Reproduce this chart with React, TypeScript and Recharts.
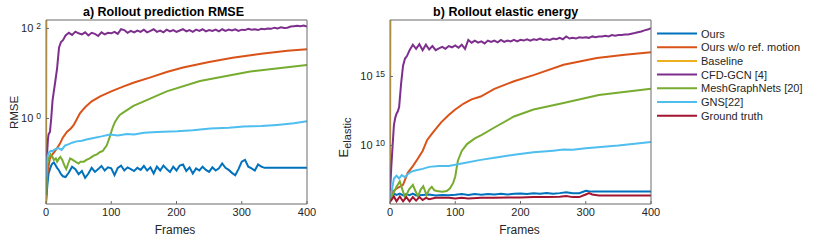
import { LineChart, Line, XAxis, YAxis } from 'recharts';

const FONT = '"Liberation Sans", Arial, Helvetica, sans-serif';
const AXIS = '#6b6b6b';
const TEXT = '#262626';

const seriesNames = ['Ours', 'Ours w/o ref. motion', 'Baseline', 'CFD-GCN [4]', 'MeshGraphNets [20]', 'GNS[22]', 'Ground truth'];
const seriesColors = ['#0072BD', '#D95319', '#EDB120', '#7E2F8E', '#77AC30', '#4DBEEE', '#A2142F'];

const frameTicks = [0, 100, 200, 300, 400];

// frames used by the noisy curves
const noisyFrames = [0, 1, 2, 3, 4, 6, 8, 10, 12, 14, 17, 20, 23, 26, 30,
  35, 40, 45, 50, 55, 60, 65, 70, 75, 80, 85, 90, 95, 100, 105, 110, 115, 120, 125, 130,
  135, 140, 145, 150, 155, 160, 165, 170, 175, 180, 185, 190, 195, 200, 205, 210, 215, 220, 225, 230,
  235, 240, 245, 250, 255, 260, 265, 270, 275, 280, 285, 290, 295, 300, 305, 310, 315, 320, 325, 330,
  335, 340, 345, 350, 355, 360, 365, 370, 375, 380, 385, 390, 395, 400];

// ---- a) RMSE ----
const rmseDomain = [0.0126, 154];
const rmseTicks = [1, 100];
const rmseMinor = [0.02, 0.03, 0.04, 0.05, 0.06, 0.07, 0.08, 0.09, 0.1, 0.2, 0.3, 0.4, 0.5, 0.6, 0.7, 0.8, 0.9, 1,
  2, 3, 4, 5, 6, 7, 8, 9, 10, 20, 30, 40, 50, 60, 70, 80, 90, 100];

const oursRmse = [0.013, 0.02, 0.032, 0.045, 0.06, 0.075, 0.09, 0.1, 0.105, 0.095, 0.08, 0.07, 0.058, 0.052, 0.05,
  0.063, 0.085, 0.075, 0.058, 0.068, 0.048, 0.06, 0.08, 0.065, 0.075,
  0.088, 0.07, 0.082, 0.078, 0.055, 0.08, 0.09, 0.07, 0.082, 0.075,
  0.068, 0.08, 0.072, 0.088, 0.07, 0.082, 0.06, 0.085, 0.07, 0.09,
  0.075, 0.065, 0.085, 0.07, 0.09, 0.095, 0.068, 0.082, 0.06, 0.078,
  0.07, 0.085, 0.072, 0.065, 0.082, 0.07, 0.078, 0.1, 0.08, 0.072,
  0.062, 0.055, 0.075, 0.11, 0.12, 0.085, 0.078, 0.07, 0.095, 0.085,
  0.08, 0.08, 0.08, 0.08, 0.08, 0.08, 0.08, 0.08, 0.08, 0.08, 0.08, 0.08, 0.08, 0.08];

const cfdRmse = [0.038, 0.1, 0.2, 0.35, 0.45, 0.5, 1.0, 2.5, 4, 6.3, 13, 38, 50, 55, 70,
  80, 72, 85, 78, 74, 82, 70, 80, 76, 68,
  82, 74, 80, 78, 84, 76, 96, 92, 80, 88,
  82, 90, 84, 94, 82, 88, 96, 84, 90, 82,
  94, 86, 92, 84, 90, 96, 86, 92, 84, 94,
  88, 96, 86, 92, 88, 94, 86, 96, 88, 94,
  90, 96, 88, 94, 92, 98, 94, 96, 92, 98,
  96, 100, 98, 104, 100, 106, 102, 104, 110, 112, 114, 112, 116, 110];

const noRefRmseFrames = [0, 2, 6, 10, 15, 21, 26, 32, 38, 42, 47, 52, 58, 62, 70, 83, 100, 118, 135, 159, 185, 210, 250, 286, 330, 370, 400];
const noRefRmse = [0.015, 0.06, 0.13, 0.16, 0.2, 0.27, 0.38, 0.5, 0.6, 0.7, 0.95, 1.3, 1.65, 1.9, 2.4, 3.1, 4.0, 5.1, 6.3, 8.1, 10.8, 13.5, 18, 22.4, 27.5, 32, 34.7];

const mgnRmseFrames = [0, 2, 4, 7, 10, 12, 15, 17, 20, 22, 25, 27, 29, 31, 34, 37, 41, 45, 50, 53, 58, 62, 67, 73, 78, 83, 87, 90, 93, 95, 98, 100, 103, 106, 110, 113, 120, 134, 150, 185, 236, 313, 400];
const mgnRmse = [0.02, 0.1, 0.13, 0.16, 0.14, 0.12, 0.13, 0.11, 0.13, 0.14, 0.12, 0.1, 0.085, 0.075, 0.1, 0.13, 0.12, 0.11, 0.1, 0.11, 0.11, 0.12, 0.13, 0.15, 0.16, 0.18, 0.19, 0.22, 0.25, 0.3, 0.4, 0.5, 0.68, 0.85, 1.05, 1.2, 1.4, 1.9, 2.4, 4.0, 6.8, 11, 15.5];

const gnsRmseFrames = [0, 2, 4, 7, 10, 12, 15, 19, 24, 29, 35, 40, 47, 55, 62, 73, 85, 98, 110, 124, 135, 150, 170, 201, 225, 252, 280, 303, 330, 354, 380, 400];
const gnsRmse = [0.05, 0.14, 0.17, 0.19, 0.185, 0.2, 0.21, 0.22, 0.2, 0.25, 0.27, 0.29, 0.31, 0.32, 0.34, 0.37, 0.4, 0.44, 0.42, 0.45, 0.44, 0.48, 0.5, 0.52, 0.55, 0.6, 0.62, 0.66, 0.68, 0.72, 0.78, 0.87];

const baselineFrames = [0, 1];
const baselineRmse = [0.0126, 10000];

// ---- b) elastic energy ----
const energyDomain = [5.7e5, 1.24e19];
const energyTicks = [1e10, 1e15];
const energyMinor = [1e6, 1e7, 1e8, 1e9, 1e10, 1e11, 1e12, 1e13, 1e14, 1e15, 1e16, 1e17, 1e18, 1e19];

const oursEnergyFrames = [0, 3, 6, 10, 15, 20, 25, 30, 35, 40, 50, 60, 70, 80, 90, 100, 110, 120, 130, 140, 150, 160, 170, 180, 190, 200, 210, 220, 230, 240, 250, 260, 270, 280, 290, 300, 305, 310, 320, 340, 360, 380, 400];
const oursEnergy = [1e6, 2.2e6, 3.2e6, 2.6e6, 3.2e6, 2.4e6, 3e6, 2.5e6, 3.2e6, 2.4e6, 2.6e6, 2.8e6, 2.4e6, 2.6e6, 2.5e6, 2.7e6, 3e6, 2.6e6, 3e6, 2.7e6, 3e6, 2.75e6, 3.1e6, 2.8e6, 3.2e6, 3.3e6, 3e6, 3.4e6, 3.2e6, 3.5e6, 3.2e6, 3.5e6, 4e6, 3.5e6, 3.5e6, 5.2e6, 4.8e6, 4.5e6, 4.5e6, 4.5e6, 4.5e6, 4.5e6, 4.5e6];

const noRefEnergyFrames = [0, 5, 11, 20, 27, 35, 42, 50, 57, 65, 78, 90, 100, 113, 125, 139, 160, 190, 220, 266, 317, 360, 400];
const noRefEnergy = [2e6, 5e6, 7.9e6, 1.4e7, 1e8, 3.2e8, 1e9, 4e9, 2.5e10, 7.9e10, 4.5e11, 1.6e12, 4e12, 1.1e13, 2.2e13, 3.5e13, 1.26e14, 4.5e14, 1.26e15, 7e15, 2.2e16, 3.7e16, 5.6e16];

const baselineEnergy = [5.7e5, 1e25];

const cfdEnergy = [5e6, 3e7, 3e8, 1.6e9, 1e10, 3e11, 1e12, 2e12, 3e12, 6e12, 3e14, 6e15, 2e16, 3e16, 8e16,
  2e17, 1e17, 2.2e17, 8e16, 2e17, 9e16, 1.6e17, 8e16, 1.1e17, 1.4e17,
  1e17, 1.6e17, 1.3e17, 1.8e17, 1.2e17, 2e17, 1e17, 4.5e17, 2.8e17, 4e17,
  2.8e17, 3.5e17, 2.5e17, 4e17, 3.2e17, 4e17, 3e17, 4.5e17, 3.2e17, 4e17,
  3.5e17, 4.5e17, 3.5e17, 4.5e17, 4e17, 5e17, 4e17, 5e17, 4.5e17, 5.6e17,
  4.5e17, 5e17, 4.5e17, 5.6e17, 5e17, 6.3e17, 5e17, 8e17, 5.6e17, 6.3e17,
  5.6e17, 7e17, 6.3e17, 7e17, 6.3e17, 8e17, 7e17, 8e17, 8e17, 9e17,
  8e17, 1e18, 9e17, 1e18, 1e18, 1.1e18, 1.1e18, 1.26e18, 1.4e18, 1.6e18, 1.8e18, 2.2e18, 2.5e18, 3.2e18];

const mgnEnergyFrames = [0, 5, 10, 15, 19, 23, 29, 35, 39, 43, 47, 51, 56, 60, 64, 68, 72, 80, 87, 92, 97, 100, 104, 110, 118, 130, 140, 160, 190, 220, 266, 320, 400];
const mgnEnergy = [1e6, 3.2e6, 1e7, 2.5e7, 6.3e6, 1.6e6, 6.3e6, 1.4e7, 5e6, 2e6, 6.3e6, 1.1e7, 2.5e6, 6.3e6, 1e7, 5.6e6, 5e6, 4.5e6, 5e6, 7.9e6, 2e7, 5.6e7, 7.9e8, 4e9, 1.26e10, 3.2e10, 5.6e10, 2e11, 1.26e12, 4e12, 1.2e13, 4.5e13, 1.3e14];

const gnsEnergyFrames = [0, 3, 6, 10, 14, 18, 23, 28, 33, 40, 50, 60, 75, 90, 110, 139, 165, 190, 220, 250, 266, 280, 300, 350, 400];
const gnsEnergy = [1.6e6, 6.3e6, 4e7, 6.3e7, 4e7, 7e7, 5e7, 9e7, 1.26e8, 1.6e8, 2e8, 2.8e8, 3.2e8, 3.2e8, 5e8, 9e8, 1.4e9, 2.1e9, 3.2e9, 4.2e9, 5e9, 4.8e9, 6.3e9, 1e10, 1.8e10];

const gtEnergyFrames = [0, 3, 6, 10, 15, 20, 25, 30, 35, 40, 45, 50, 55, 60, 70, 80, 90, 100, 110, 120, 140, 160, 180, 200, 220, 240, 260, 270, 280, 290, 300, 305, 310, 320, 340, 370, 400];
const gtEnergy = [7.9e5, 1.26e6, 2e6, 8.9e5, 2e6, 8.9e5, 1.8e6, 8.9e5, 1.8e6, 1e6, 1.8e6, 1.1e6, 1.6e6, 1.26e6, 1.6e6, 1.6e6, 1.6e6, 1.4e6, 1.6e6, 1.4e6, 1.6e6, 1.6e6, 1.66e6, 1.66e6, 1.8e6, 1.8e6, 1.9e6, 2.2e6, 1.8e6, 1.8e6, 2.8e6, 3.5e6, 2.8e6, 2.4e6, 2.4e6, 2.4e6, 2.4e6];

const toPoints = (frames: number[], values: number[]) => frames.map((f, i) => ({ f, v: values[i] }));

type Series = { name: string; color: string; data: { f: number; v: number }[] };

const rmseSeries: Series[] = [
  toPoints(noisyFrames, oursRmse),
  toPoints(noRefRmseFrames, noRefRmse),
  toPoints(baselineFrames, baselineRmse),
  toPoints(noisyFrames, cfdRmse),
  toPoints(mgnRmseFrames, mgnRmse),
  toPoints(gnsRmseFrames, gnsRmse),
].map((data, i) => ({ name: seriesNames[i], color: seriesColors[i], data }));

const energySeries: Series[] = [
  toPoints(oursEnergyFrames, oursEnergy),
  toPoints(noRefEnergyFrames, noRefEnergy),
  toPoints(baselineFrames, baselineEnergy),
  toPoints(noisyFrames, cfdEnergy),
  toPoints(mgnEnergyFrames, mgnEnergy),
  toPoints(gnsEnergyFrames, gnsEnergy),
  toPoints(gtEnergyFrames, gtEnergy),
].map((data, i) => ({ name: seriesNames[i], color: seriesColors[i], data }));

function PowTick(props: any) {
  const { x, y, payload } = props;
  const exp = Math.round(Math.log10(payload.value));
  return (
    <text x={x} y={y + 4} textAnchor="end" fill={TEXT} fontSize={11} fontFamily={FONT}>
      <tspan>10</tspan>
      <tspan dx={3} dy={-3} fontSize={8.5}>{exp}</tspan>
    </text>
  );
}

type PanelProps = {
  series: Series[];
  domain: number[];
  majorTicks: number[];
  minorTicks: number[];
  width: number;
  yWidth: number;
  marginRight: number;
};

function Panel({ series, domain, majorTicks, minorTicks, width, yWidth, marginRight }: PanelProps) {
  return (
    <LineChart width={width} height={241} margin={{ top: 19, right: marginRight, bottom: 7, left: 10 }}>
      <XAxis
        dataKey="f"
        type="number"
        domain={[0, 400]}
        ticks={frameTicks}
        interval={0}
        allowDataOverflow
        height={30}
        tickSize={-3}
        tickMargin={7}
        stroke={AXIS}
        tick={{ fontSize: 11, fill: TEXT, fontFamily: FONT }}
      />
      <XAxis
        xAxisId="top"
        orientation="top"
        dataKey="f"
        type="number"
        domain={[0, 400]}
        ticks={[100, 200, 300]}
        interval={0}
        allowDataOverflow
        height={1}
        tickSize={-3}
        tick={false}
        stroke={AXIS}
      />
      <YAxis
        type="number"
        scale="log"
        domain={domain}
        allowDataOverflow
        ticks={majorTicks}
        interval={0}
        width={yWidth}
        tickSize={-3}
        tickMargin={8}
        stroke={AXIS}
        tick={<PowTick />}
      />
      <YAxis
        yAxisId="minor"
        orientation="right"
        type="number"
        scale="log"
        domain={domain}
        allowDataOverflow
        ticks={minorTicks}
        interval={0}
        width={1}
        tickSize={-3}
        tick={false}
        stroke={AXIS}
      />
      {series.map((s) => (
        <Line
          key={s.name}
          data={s.data}
          dataKey="v"
          type="linear"
          stroke={s.color}
          strokeWidth={2}
          dot={false}
          activeDot={false}
          isAnimationActive={false}
        />
      ))}
    </LineChart>
  );
}

export default function App() {
  return (
    <div style={{ position: 'relative', width: 830, height: 241, background: '#fff', overflow: 'hidden' }}>
      <style>{'body{margin:0}'}</style>
      <div style={{ position: 'absolute', left: 0, top: 0 }}>
        <Panel series={rmseSeries} domain={rmseDomain} majorTicks={rmseTicks} minorTicks={rmseMinor} width={320} yWidth={36} marginRight={12} />
      </div>
      <div style={{ position: 'absolute', left: 330, top: 0 }}>
        <Panel series={energySeries} domain={energyDomain} majorTicks={energyTicks} minorTicks={energyMinor} width={330} yWidth={50} marginRight={8} />
      </div>
      <svg width={830} height={241} style={{ position: 'absolute', left: 0, top: 0, pointerEvents: 'none' }} fontFamily={FONT}>
        <text x={163.5} y={16} textAnchor="middle" fontSize={12.5} fontWeight="bold" fill="#000">a) Rollout prediction RMSE</text>
        <text x={505.7} y={16} textAnchor="middle" fontSize={12.5} fontWeight="bold" fill="#000">b) Rollout elastic energy</text>
        <text x={175} y={233.5} textAnchor="middle" fontSize={12} fill={TEXT}>Frames</text>
        <text x={519.5} y={233.5} textAnchor="middle" fontSize={12} fill={TEXT}>Frames</text>
        <text transform="translate(18,112.5) rotate(-90)" textAnchor="middle" fontSize={11.5} fill={TEXT}>RMSE</text>
        <text transform="translate(348,137.5) rotate(-90)" textAnchor="middle" fontSize={13} fill={TEXT}>
          <tspan>E</tspan>
          <tspan dy={3} fontSize={11}>elastic</tspan>
        </text>
        {seriesNames.map((name, i) => {
          const y = 33.5 + i * 13.7;
          return (
            <g key={name}>
              <line x1={657} x2={697} y1={y} y2={y} stroke={seriesColors[i]} strokeWidth={2} />
              <text x={701} y={y + 4} fontSize={11} fill={TEXT}>{name}</text>
            </g>
          );
        })}
      </svg>
    </div>
  );
}
